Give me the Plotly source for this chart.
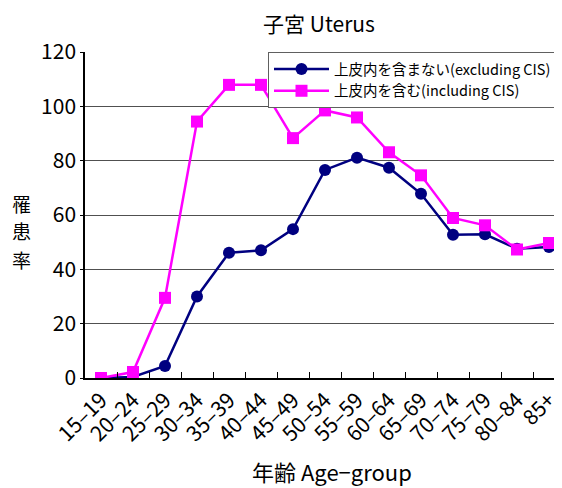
import plotly.graph_objects as go

categories = ["15–19", "20–24", "25–29", "30–34", "35–39", "40–44", "45–49", "50–54",
              "55–59", "60–64", "65–69", "70–74", "75–79", "80–84", "85+"]
excluding_cis = [0.0, 0.4, 4.4, 30.0, 46.1, 47.0, 54.8, 76.6, 81.1, 77.4, 67.8, 52.7, 52.9, 47.6, 48.2]
including_cis = [0.0, 2.2, 29.5, 94.4, 107.9, 107.9, 88.3, 98.5, 95.9, 83.1, 74.6, 58.9, 56.2, 47.3, 49.7]
y_title_chars = ["罹", "患", "率"]

FONT = "Noto Sans CJK JP"
OFF = 8  # page body margin offset
W, H = 562 - OFF, 488 - OFF
ML, MR, MT, MB = 85 - OFF, 0, 52 - OFF, 110
plot_w = W - ML - MR
plot_h = H - MT - MB
px_per_cat = 32.0


def px_x(x):
    return (x - OFF - ML) / plot_w


def px_y(y):
    return (378 - y) / plot_h


fig = go.Figure()
fig.add_trace(go.Scatter(
    x=categories, y=excluding_cis, mode="lines+markers",
    name="上皮内を含まない(excluding CIS)",
    line=dict(color="#000080", width=2.5),
    marker=dict(symbol="circle", size=12, color="#000080"),
))
fig.add_trace(go.Scatter(
    x=categories, y=including_cis, mode="lines+markers",
    name="上皮内を含む(including CIS)",
    line=dict(color="#FF00FF", width=2.5),
    marker=dict(symbol="square", size=12, color="#FF00FF"),
))

fig.update_layout(
    width=W, height=H,
    margin=dict(l=ML, r=MR, t=MT, b=MB, autoexpand=False),
    paper_bgcolor="white", plot_bgcolor="white",
    font=dict(family=FONT, color="black"),
    title=dict(text="子宮 Uterus", x=(319 - OFF) / W, xanchor="center",
               y=1 - (25 - OFF) / H, yanchor="middle", font=dict(size=21, family=FONT)),
    showlegend=True,
    legend=dict(x=px_x(268), y=1.0, xanchor="left", yanchor="top",
                bgcolor="white", bordercolor="#606060", borderwidth=1,
                font=dict(size=14.5, family=FONT), tracegroupgap=0,
                itemwidth=55),
)

fig.update_xaxes(
    type="category", automargin=False,
    range=[-0.5, -0.5 + plot_w / px_per_cat],
    showline=True, linecolor="black", linewidth=1.5,
    ticks="inside", ticklen=6, tickcolor="black", tickwidth=1.2,
    tickson="boundaries",
    tickangle=-45, tickfont=dict(size=21, family=FONT),
    showgrid=False, zeroline=False,
)
fig.update_yaxes(
    automargin=False,
    range=[0, 120], dtick=20,
    showline=True, linecolor="black", linewidth=1.5,
    ticks="outside", ticklen=3, tickcolor="black",
    tickfont=dict(size=21, family=FONT),
    showgrid=True, gridcolor="#505050", gridwidth=1,
    zeroline=False,
)

for ch, yc in zip(y_title_chars, [203, 231, 259]):
    fig.add_annotation(text=ch, xref="paper", yref="paper",
                       x=px_x(21), y=px_y(yc),
                       showarrow=False, font=dict(size=19, family=FONT),
                       xanchor="center", yanchor="middle")
fig.add_annotation(text="年齢 Age−group", xref="paper", yref="paper",
                   x=px_x(332), y=px_y(471),
                   showarrow=False, font=dict(size=22, family=FONT),
                   xanchor="center", yanchor="middle")

fig.write_html("out.html")
